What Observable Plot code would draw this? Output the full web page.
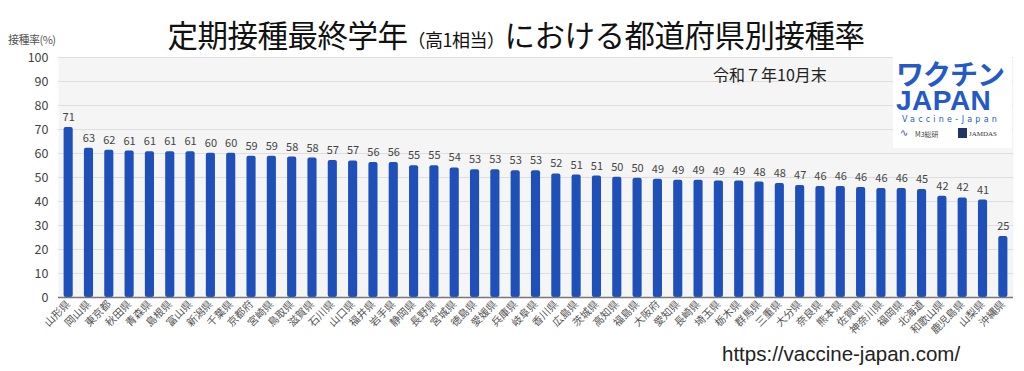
<!DOCTYPE html>
<html><head><meta charset="utf-8">
<script src="https://cdn.jsdelivr.net/npm/d3@7"></script>
<script src="https://cdn.jsdelivr.net/npm/@observablehq/plot@0.6"></script>
<style>
html,body{margin:0;padding:0;background:#fff;}
body{width:1024px;height:371px;overflow:hidden;position:relative;font-family:"Noto Sans CJK JP","Noto Sans",sans-serif;}
.abs{position:absolute;white-space:nowrap;}
#chart{position:absolute;left:0;top:0;}
</style></head>
<body>
<div id="chart"></div>
<div class="abs" style="left:4px;width:1024px;top:14px;text-align:center;font-size:30.5px;color:#111;line-height:40px;letter-spacing:-0.5px;">定期接種最終学年<span style="font-size:18px;">（高1相当）</span>における都道府県別接種率</div>
<div class="abs" style="left:8px;top:33px;font-size:11px;color:#555;letter-spacing:-0.5px;line-height:13px;">接種率(%)</div>
<div class="abs" style="left:713px;top:62px;font-size:16px;color:#222;">令和７年10月末</div>
<div class="abs" style="left:893px;top:53px;width:119px;height:95px;background:#fff;"></div>
<div class="abs" style="left:896px;top:58px;font-size:28px;font-weight:bold;color:#2459c8;letter-spacing:-1px;line-height:30px;">ワクチン</div>
<div class="abs" style="left:896px;top:90px;font-size:28px;font-weight:bold;color:#2459c8;font-family:'Liberation Sans',sans-serif;line-height:22px;letter-spacing:0.5px;">JAPAN</div>
<div class="abs" style="left:902px;top:115px;font-size:8px;color:#2459c8;letter-spacing:3.2px;font-family:'DejaVu Sans',sans-serif;line-height:10px;">Vaccine-Japan</div>
<div class="abs" style="left:900px;top:127px;font-size:10px;color:#3a5a9a;font-family:'DejaVu Sans';line-height:12px;">∿</div>
<div class="abs" style="left:915px;top:130px;font-size:7px;color:#444;line-height:9px;">M3総研</div>
<div class="abs" style="left:958px;top:128px;width:9px;height:10px;background:#1e3566;"></div>
<div class="abs" style="left:969px;top:130px;font-size:7px;color:#333;font-family:'Liberation Serif',serif;line-height:9px;">JAMDAS</div>
<div class="abs" style="left:722px;top:342px;font-size:20.5px;color:#222;font-family:'Liberation Sans',Arial,sans-serif;line-height:24px;">https://vaccine-japan.com/</div>
<script>
const prefectures = ["山形県","岡山県","東京都","秋田県","青森県","島根県","富山県","新潟県","千葉県","京都府","宮崎県","鳥取県","滋賀県","石川県","山口県","福井県","岩手県","静岡県","長野県","宮城県","徳島県","愛媛県","兵庫県","岐阜県","香川県","広島県","茨城県","高知県","福島県","大阪府","愛知県","長崎県","埼玉県","栃木県","群馬県","三重県","大分県","奈良県","熊本県","佐賀県","神奈川県","福岡県","北海道","和歌山県","鹿児島県","山梨県","沖縄県"];
const rates = [70.8,62.2,61.4,61.0,60.7,60.7,60.7,60.1,60.1,58.9,58.9,58.5,58.1,57.1,56.9,56.3,56.3,54.9,54.9,54.0,53.2,53.2,52.8,52.8,51.5,51.0,50.6,50.1,49.7,49.3,48.9,48.9,48.5,48.5,48.1,47.5,46.7,46.2,46.2,45.8,45.4,45.4,45.0,42.2,41.5,40.6,25.4];
const rateLabels = [71,63,62,61,61,61,61,60,60,59,59,58,58,57,57,56,56,55,55,54,53,53,53,53,52,51,51,50,50,49,49,49,49,49,48,48,47,46,46,46,46,46,45,42,42,41,25];
const yTicks = [0,10,20,30,40,50,60,70,80,90,100];

const data = prefectures.map((p,i)=>({pref:p, rate:rates[i], label:String(rateLabels[i])}));

const chart = Plot.plot({
  width:1024, height:371,
  marginTop:57, marginBottom:74, marginLeft:58, marginRight:11,
  style:{fontFamily:"'Noto Sans CJK JP','Noto Sans',sans-serif", background:"transparent", color:"#444"},
  x:{domain:prefectures, padding:0, round:false, label:null, tickSize:0, tickRotate:-45, tickPadding:5},
  y:{domain:[0,100], ticks:yTicks, label:null, tickSize:0, tickPadding:10},
  marks:[
    Plot.frame({fill:"#f5f5f5", stroke:null}),
    Plot.gridY(yTicks,{stroke:"#dedede", strokeOpacity:1, strokeWidth:1}),
    Plot.barY(data,{x:"pref", y:"rate", fill:"#1f4fb9", rx:2, insetLeft:5.6, insetRight:5.6}),
    Plot.ruleY([0],{stroke:"#777", strokeWidth:1.5}),
    Plot.text(data,{x:"pref", y:"rate", text:"label", dy:-10, fontSize:11, fill:"#444"}),
    Plot.axisY({ticks:yTicks, tickSize:0, tickPadding:10, fontSize:12.5, fill:"#444", label:null}),
    Plot.axisX({tickSize:0, tickRotate:-45, fontSize:10.5, fill:"#555", label:null, tickPadding:5})
  ]
});
document.getElementById("chart").appendChild(chart);
</script>
</body></html>
